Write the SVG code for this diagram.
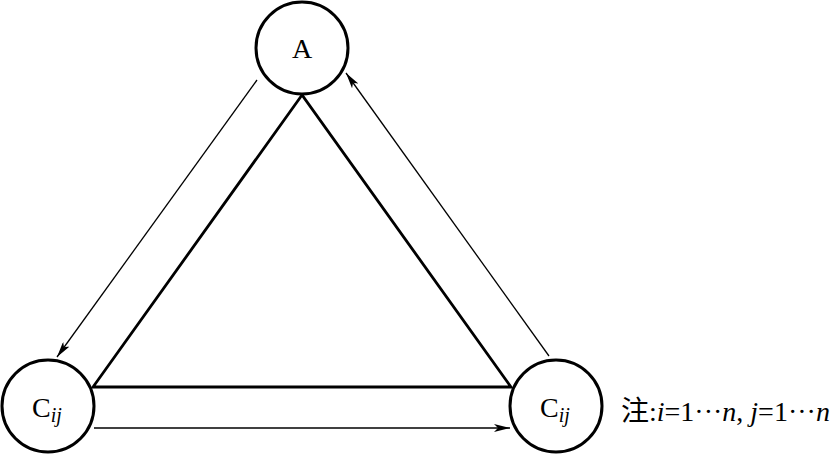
<svg xmlns="http://www.w3.org/2000/svg" width="836" height="455" viewBox="0 0 836 455">
<style>
.node{fill:#fff;stroke:#000;stroke-width:3}
.tri{fill:none;stroke:#000;stroke-width:2.8;stroke-linejoin:miter}
.arr{fill:none;stroke:#000;stroke-width:1.3;marker-end:url(#ah)}
.t{font-family:"Liberation Serif","Noto Sans CJK SC",serif;fill:#000}
</style>
<defs>
<marker id="ah" viewBox="0 0 16 8" refX="16" refY="4" markerWidth="16" markerHeight="8" markerUnits="userSpaceOnUse" orient="auto">
<path d="M0,0 L16,4 L0,8 L4,4 Z" fill="#000"/>
</marker>
</defs>
<rect width="836" height="455" fill="#fff"/>
<g id="connectors">
<polygon class="tri" points="302,95 93,387 511,387"/>
<line class="arr" x1="257" y1="80" x2="57" y2="357"/>
<line class="arr" x1="549" y1="356" x2="346" y2="73"/>
<line class="arr" x1="94" y1="428" x2="510" y2="428"/>
</g>
<g id="nodeA">
<circle class="node" cx="302" cy="48" r="46"/>
<text class="t" x="302" y="58" font-size="28" text-anchor="middle">A</text>
</g>
<g id="nodeC1">
<circle class="node" cx="48" cy="406" r="46"/>
<text class="t" x="47" y="417" font-size="28" text-anchor="middle">C<tspan font-size="20" font-style="italic" dy="5">ij</tspan></text>
</g>
<g id="nodeC2">
<circle class="node" cx="556" cy="406" r="46"/>
<text class="t" x="555" y="417" font-size="28" text-anchor="middle">C<tspan font-size="20" font-style="italic" dy="5">ij</tspan></text>
</g>
<g id="note">
<text class="t" x="621" y="421" font-size="28">注:<tspan font-style="italic">i</tspan>=1···<tspan font-style="italic">n</tspan>, <tspan font-style="italic">j</tspan>=1···<tspan font-style="italic">n</tspan></text>
</g>
</svg>
